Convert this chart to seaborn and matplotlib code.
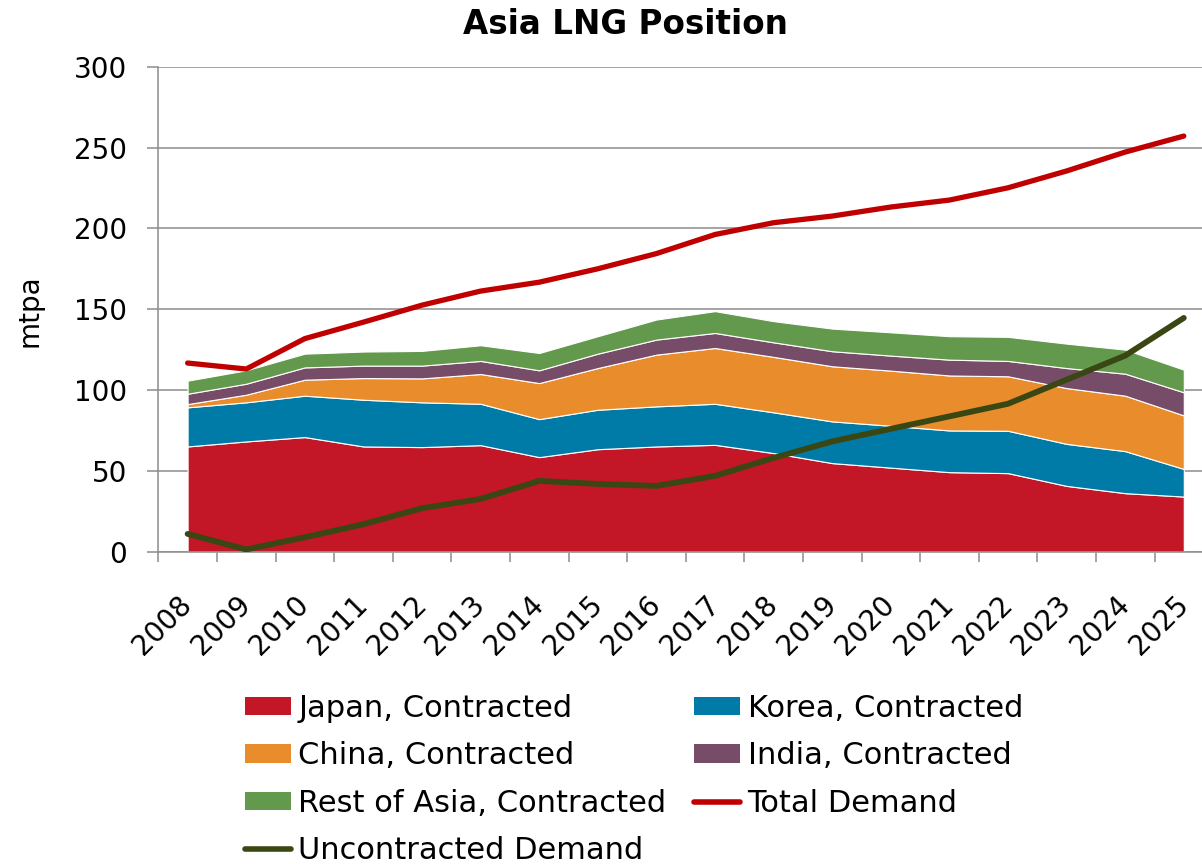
import numpy as np
import pandas as pd
import matplotlib
matplotlib.use("Agg")
import matplotlib.pyplot as plt
from matplotlib.patches import Patch
from matplotlib.lines import Line2D
import seaborn as sns

# ---- data (mtpa) ----
years = [str(y) for y in range(2008, 2026)]
japan = [65.1, 68.2, 70.9, 65.1, 64.7, 65.9, 58.5, 63.4, 65.1, 66.1, 61.0, 54.8, 52.0, 49.2, 48.6, 40.7, 36.2, 34.1]
korea = [24.2, 24.2, 25.6, 28.9, 27.7, 25.6, 23.5, 24.4, 24.8, 25.4, 25.2, 25.8, 25.9, 25.8, 26.2, 26.0, 26.0, 17.1]
china = [2.0, 4.7, 9.9, 13.4, 14.8, 18.4, 22.3, 25.8, 32.0, 34.5, 34.3, 34.1, 34.1, 34.0, 33.7, 34.5, 34.3, 33.1]
india = [6.4, 6.8, 7.6, 7.7, 7.9, 8.1, 7.9, 8.9, 9.3, 9.3, 9.0, 9.3, 9.3, 9.8, 9.5, 12.4, 13.6, 14.3]
rest_of_asia = [8.1, 8.3, 8.5, 8.7, 9.1, 9.7, 10.7, 10.8, 12.4, 13.5, 13.1, 14.0, 14.4, 14.5, 14.9, 15.1, 14.9, 14.0]
total_demand = [116.7, 113.0, 131.8, 142.0, 152.5, 161.2, 166.7, 175.0, 184.4, 196.2, 203.5, 207.6, 213.2, 217.5, 225.1, 235.5, 247.2, 257.1]
uncontracted = [11.0, 1.4, 8.9, 17.0, 26.9, 32.6, 43.8, 41.9, 40.7, 46.9, 58.0, 68.2, 76.0, 83.7, 91.5, 106.4, 121.3, 144.6]

area_labels = ["Japan, Contracted", "Korea, Contracted", "China, Contracted",
               "India, Contracted", "Rest of Asia, Contracted"]
area_colors = ["#C31627", "#007BA7", "#E88C2C", "#774C68", "#63994D"]
line_labels = ["Total Demand", "Uncontracted Demand"]
line_colors = ["#C00000", "#3A4713"]

sns.set_theme(style="white")
plt.rcParams["font.family"] = ["DejaVu Sans"]
plt.rcParams["text.color"] = "black"
plt.rcParams["axes.labelcolor"] = "black"
plt.rcParams["xtick.color"] = "black"
plt.rcParams["ytick.color"] = "black"

W, H = 1202, 864
fig = plt.figure(figsize=(W / 100, H / 100), dpi=100)
ax_left, ax_right, ax_top, ax_bottom = 158.3, 1213.1, 66.7, 551.7
ax = fig.add_axes([ax_left / W, 1 - ax_bottom / H, (ax_right - ax_left) / W, (ax_bottom - ax_top) / H])

x = np.arange(len(years))
ax.stackplot(x, japan, korea, china, india, rest_of_asia, colors=area_colors,
             edgecolor="white", linewidth=0.8, zorder=2)

df = pd.DataFrame({"x": x, "total": total_demand, "unc": uncontracted})
sns.lineplot(data=df, x="x", y="total", color=line_colors[0], linewidth=3.8,
             ax=ax, legend=False, zorder=4, solid_capstyle="round")
sns.lineplot(data=df, x="x", y="unc", color=line_colors[1], linewidth=4.2,
             ax=ax, legend=False, zorder=4, solid_capstyle="round")

ax.set_xlim(-0.5, len(years) - 0.5)
ax.set_ylim(0, 300)
ax.set_xlabel("")
ax.set_ylabel("")

grid_c = "#8C8C8C"
ax.set_yticks(np.arange(0, 301, 50))
ax.yaxis.grid(True, color=grid_c, linewidth=1.1)
ax.xaxis.grid(False)
ax.set_axisbelow(True)

ax.set_xticks(np.arange(-0.5, len(years), 1.0))
ax.set_xticks(x, minor=True)
ax.set_xticklabels(years, minor=True)
ax.tick_params(axis="x", which="major", length=7.2, width=1.1, color=grid_c,
               direction="out", labelbottom=False, bottom=True)
ax.tick_params(axis="x", which="minor", length=0, pad=35, labelsize=20, labelcolor="black")
for lab in ax.get_xticklabels(minor=True):
    lab.set_rotation(45)
    lab.set_ha("right")
    lab.set_va("center")
    lab.set_rotation_mode("anchor")
ax.tick_params(axis="y", which="major", length=7.6, width=1.1, color=grid_c,
               direction="out", pad=15, labelsize=20, left=True, labelcolor="black")

for s in ["top", "right"]:
    ax.spines[s].set_visible(False)
for s in ["left", "bottom"]:
    ax.spines[s].set_color(grid_c)
    ax.spines[s].set_linewidth(1.1)

fig.text(625 / W, 1 - 24 / H, "Asia LNG Position", ha="center", va="center",
         fontsize=23.5, fontweight="bold", color="black")
fig.text(30 / W, 1 - 311 / H, "mtpa", rotation=90, ha="center", va="center",
         fontsize=20, color="black")

ah = [Patch(facecolor=c, edgecolor="none") for c in area_colors]
lh = [Line2D([0], [0], color=c, linewidth=4, solid_capstyle="round") for c in line_colors]
handles = [ah[0], ah[2], ah[4], lh[1], ah[1], ah[3], lh[0]]
labels = [area_labels[0], area_labels[2], area_labels[4], line_labels[1],
          area_labels[1], area_labels[3], line_labels[0]]
fig.legend(handles, labels, loc="upper left", bbox_to_anchor=(245 / W, 1 - 694 / H),
           ncol=2, frameon=False, fontsize=22, borderpad=0, borderaxespad=0,
           handlelength=1.5, handleheight=0.55, handletextpad=0.25,
           columnspacing=0.9, labelspacing=0.6, labelcolor="black")

fig.savefig("out.png", dpi=100)
